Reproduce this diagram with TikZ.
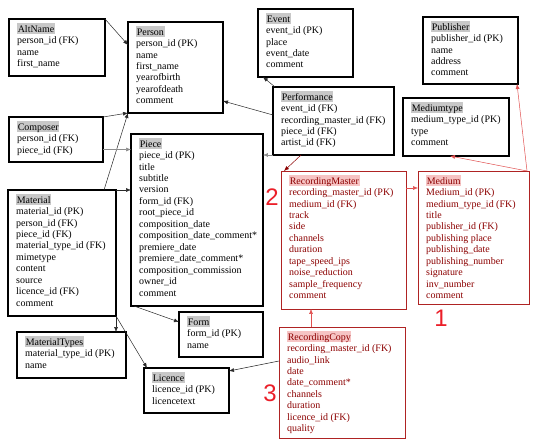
\documentclass[tikz,border=0pt]{standalone}
\usepackage{fontspec}
\setmainfont{Liberation Serif}
\newfontfamily\numfont{Liberation Sans}
\usetikzlibrary{arrows.meta,calc}
\definecolor{hlgray}{RGB}{200,200,200}
\definecolor{hlpink}{RGB}{246,196,196}
\definecolor{rtxt}{RGB}{140,0,0}
\definecolor{rborder}{RGB}{175,35,35}
\definecolor{rline}{RGB}{225,80,80}
\definecolor{dline}{RGB}{40,40,40}
\definecolor{gline}{RGB}{140,140,140}
\definecolor{numred}{RGB}{235,30,40}
\newcommand\hltitle[2]{{\setlength\fboxsep{0pt}\colorbox{#1}{\kern0.6pt\rule[-2pt]{0pt}{11pt}#2\kern0.6pt}}}
\tikzset{
  blackbox/.style={draw=black,line width=1.1pt,inner sep=0pt,outer sep=0pt,fill=white},
  redbox/.style={draw=rborder,line width=0.9pt,inner sep=0pt,outer sep=0pt,fill=white},
  blacktxt/.style={inner sep=0pt,align=left,text=black,font=\fontsize{10}{11.5}\selectfont},
  redtxt/.style={inner sep=0pt,align=left,text=rtxt,font=\fontsize{10}{11.5}\selectfont},
  conn/.style={draw=dline,line width=0.5pt,-{Latex[length=5pt,width=4pt]}},
  gconn/.style={draw=gline,line width=0.5pt,-{Latex[length=5pt,width=4pt]}},
  rconn/.style={draw=rline,line width=0.5pt,-{Latex[length=5pt,width=4pt]}},
  drconn/.style={draw=rtxt,line width=0.5pt,-{Latex[length=5pt,width=4pt]}},
  bignum/.style={inner sep=0pt,text=numred,font=\numfont\fontsize{24}{24}\selectfont}
}
% #1 name #2 x #3 y #4 w #5 h #6 kind #7 highlight colour #8 title #9 lines
\newcommand\erbox[9]{%
  \node[#6box,minimum width=#4bp,minimum height=#5bp,anchor=north west] (#1) at (#2,#3) {};
  \node[#6txt,anchor=north west] (#1-t) at ({#2+8},{#3+4}) {\hltitle{#7}{#8}\\#9};
}
\begin{document}
\begin{tikzpicture}[x=1bp,y=-1bp]
\useasboundingbox (0,0) rectangle (542,445);
\fill[white] (0,0) rectangle (542,445);

\erbox{altname}{9}{19}{96}{57}{black}{hlgray}{AltName}{person\_id (FK)\\name\\first\_name}
\erbox{person}{128}{22}{95}{91}{black}{hlgray}{Person}{person\_id (PK)\\name\\first\_name\\yearofbirth\\yearofdeath\\comment}
\erbox{composer}{9}{117}{94}{45}{black}{hlgray}{Composer}{person\_id (FK)\\piece\_id (FK)}
\erbox{piece}{131}{134}{132}{172}{black}{hlgray}{Piece}{piece\_id (PK)\\title\\subtitle\\version\\form\_id (FK)\\root\_piece\_id\\composition\_date\\composition\_date\_comment*\\premiere\_date\\premiere\_date\_comment*\\composition\_commission\\owner\_id\\comment}
\erbox{material}{8}{190}{108}{126}{black}{hlgray}{Material}{material\_id (PK)\\person\_id (FK)\\piece\_id (FK)\\material\_type\_id (FK)\\mimetype\\content\\source\\licence\_id (FK)\\comment}
\erbox{materialtypes}{17}{332}{109}{46}{black}{hlgray}{MaterialTypes}{material\_type\_id (PK)\\name}
\erbox{form}{179}{312}{84}{45}{black}{hlgray}{Form}{form\_id (PK)\\name}
\erbox{licence}{144}{368}{85}{45}{black}{hlgray}{Licence}{licence\_id (PK)\\licencetext}
\erbox{event}{258}{9}{95}{68}{black}{hlgray}{Event}{event\_id (PK)\\place\\event\_date\\comment}
\erbox{performance}{273}{87}{121}{68}{black}{hlgray}{Performance}{event\_id (FK)\\recording\_master\_id (FK)\\piece\_id (FK)\\artist\_id (FK)}
\erbox{publisher}{423}{17}{95}{67}{black}{hlgray}{Publisher}{publisher\_id (PK)\\name\\address\\comment}
\erbox{mediumtype}{403}{98}{106}{58}{black}{hlgray}{Mediumtype}{medium\_type\_id (PK)\\type\\comment}
\erbox{rm}{281}{171}{125}{138}{red}{hlpink}{RecordingMaster}{recording\_master\_id (PK)\\medium\_id (FK)\\track\\side\\channels\\duration\\tape\_speed\_ips\\noise\_reduction\\sample\_frequency\\comment}
\erbox{medium}{418}{171}{111}{133}{red}{hlpink}{Medium}{Medium\_id (PK)\\medium\_type\_id (FK)\\title\\publisher\_id (FK)\\publishing place\\publishing\_date\\publishing\_number\\signature\\inv\_number\\comment}
\erbox{rc}{279}{327}{126}{111}{red}{hlpink}{RecordingCopy}{recording\_master\_id (FK)\\audio\_link\\date\\date\_comment*\\channels\\duration\\licence\_id (FK)\\quality}

% numbers
\node[bignum] (n2) at (272,197) {2};
\node[bignum] (n1) at (441,318) {1};
\node[bignum] (n3) at (270,393) {3};

% connectors
\draw[conn] (altname.north east) -- ([yshift=-23bp]person.north west);
\draw[conn] (composer.north east) -- (person.south west);
\draw[conn] ([xshift=-12bp]material.north east) -- (person.south west);
\coordinate (c1) at ([yshift=-10bp]composer.east);
\draw[gconn] (c1) -- (c1 -| piece.west);
\draw[conn] (material.north east) -- (material.north east -| piece.west);
\draw[conn] ([yshift=-28bp]performance.north west) -- ([yshift=12bp]person.south east);
\draw[conn] ([xshift=2bp]performance.north west) -- ([xshift=5bp]event.south west);
\draw[gconn] (performance.south west) -- (performance.south west -| piece.east);
\draw[drconn] ([xshift=28bp]performance.south west) -- ([xshift=3bp]rm.north west);
\draw[rconn] ([xshift=-2bp]medium.north east) -- ([xshift=47bp]mediumtype.south west);
\draw[rconn] ([xshift=-2bp]medium.north east) -- ([xshift=-1bp]publisher.south east);
\coordinate (c2) at ([yshift=-17bp]rm.north east);
\draw[rconn] (c2) -- (c2 -| medium.west);
\coordinate (c3) at ([xshift=32bp]rc.north west);
\draw[rconn] (c3) -- (c3 |- rm.south);
\draw[conn] ([yshift=-34bp]rc.north west) -- ([yshift=-3bp]licence.north east);
\draw[conn] ([xshift=3bp]piece.south west) -- ([yshift=-10bp]form.north west);
\draw[conn] (material.south east) -- (material.south east |- materialtypes.north);
\draw[conn] (material.south east) -- ([xshift=3bp]licence.north west);
\end{tikzpicture}
\end{document}
